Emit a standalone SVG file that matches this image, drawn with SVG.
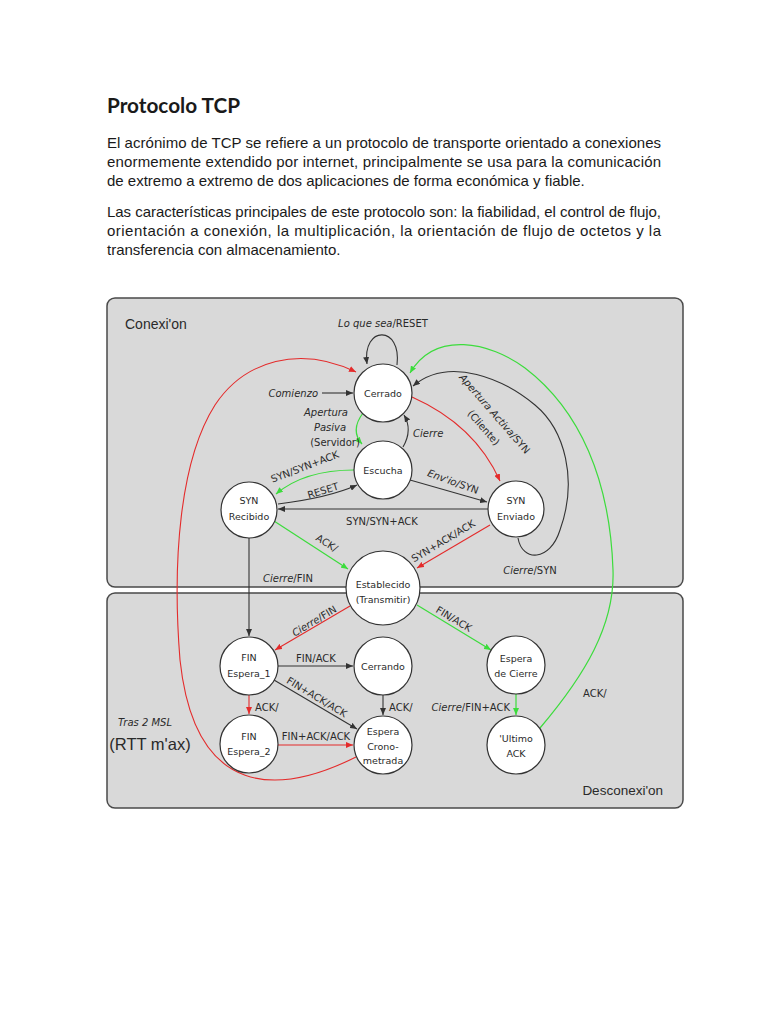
<svg xmlns="http://www.w3.org/2000/svg" width="768" height="1024" viewBox="0 0 768 1024">
<defs>
<style>
.para{font-family:"Liberation Sans",Arial,sans-serif;font-size:15px;fill:#1a1a1a}
.title{font-family:Lato,"Liberation Sans",sans-serif;font-size:21px;font-weight:bold;fill:#1a1a1a}
.panel{fill:#d9d9d9;stroke:#4a4a4a;stroke-width:1.5}
.node circle{fill:#fff;stroke:#333;stroke-width:1.2}
.t{font-family:"DejaVu Sans","Liberation Sans",sans-serif;font-size:9.5px;fill:#2a2a2a;text-anchor:middle}
.lb{font-family:"DejaVu Sans","Liberation Sans",sans-serif;font-size:10px;fill:#2a2a2a}
.it{font-style:italic}
.big{font-family:"Liberation Sans",Arial,sans-serif;font-size:14px;fill:#2a2a2a}
.k{fill:none;stroke:#333;stroke-width:1.1;marker-end:url(#ak)}
.r{fill:none;stroke:#e42b2b;stroke-width:1.1;marker-end:url(#ar)}
.g{fill:none;stroke:#3cdc3c;stroke-width:1.2;marker-end:url(#ag)}
</style>
<marker id="ak" markerUnits="userSpaceOnUse" markerWidth="8" markerHeight="6" refX="7" refY="3" orient="auto"><path d="M0,0L7,3L0,6z" fill="#333"/></marker>
<marker id="ar" markerUnits="userSpaceOnUse" markerWidth="8" markerHeight="6" refX="7" refY="3" orient="auto"><path d="M0,0L7,3L0,6z" fill="#e42b2b"/></marker>
<marker id="ag" markerUnits="userSpaceOnUse" markerWidth="8" markerHeight="6" refX="7" refY="3" orient="auto"><path d="M0,0L7,3L0,6z" fill="#3cdc3c"/></marker>
</defs>
<rect width="768" height="1024" fill="#fff"/>
<text class="title" x="107" y="113" textLength="133" lengthAdjust="spacingAndGlyphs">Protocolo TCP</text>
<text class="para" x="107" y="148" textLength="554" lengthAdjust="spacing">El acrónimo de TCP se refiere a un protocolo de transporte orientado a conexiones</text>
<text class="para" x="107" y="167" textLength="554" lengthAdjust="spacing">enormemente extendido por internet, principalmente se usa para la comunicación</text>
<text class="para" x="107" y="186">de extremo a extremo de dos aplicaciones de forma económica y fiable.</text>
<text class="para" x="107" y="217" textLength="554" lengthAdjust="spacing">Las características principales de este protocolo son: la fiabilidad, el control de flujo,</text>
<text class="para" x="107" y="236" textLength="554" lengthAdjust="spacing">orientación a conexión, la multiplicación, la orientación de flujo de octetos y la</text>
<text class="para" x="107" y="255">transferencia con almacenamiento.</text>

<rect class="panel" x="107" y="298" width="576" height="289" rx="8"/>
<rect class="panel" x="107" y="593" width="576" height="215" rx="8"/>
<text class="big" x="125" y="329">Conexi'on</text>
<text class="big" x="663" y="795" text-anchor="end" style="font-size:13.5px">Desconexi'on</text>
<text class="lb it" x="145" y="726" text-anchor="middle">Tras 2 MSL</text>
<text class="big" x="150" y="750" text-anchor="middle" style="font-size:16.5px">(RTT m'ax)</text>

<g id="edges">
<path class="k" d="M397,365 C402,325 362,325 367,364"/>
<path class="k" d="M322,393 L353,393"/>
<path class="r" d="M356,757 C280,795 195,800 180,660 C172,560 180,460 215,405 C245,360 300,345 356,372"/>
<path class="g" d="M540,728 C585,675 615,625 613,570 C610,480 580,410 525,368 C490,342 435,330 410,373"/>
<path class="k" d="M518,538 C522,562 550,562 560,530 C578,480 565,430 535,405 C505,380 450,355 413,386"/>
<path class="r" d="M412,397 Q475,425 500,481"/>
<path class="g" d="M363,413 C354,425 354,435 362,444"/>
<path class="k" d="M403,447 C410,435 410,425 404,415"/>
<path class="g" d="M354,470 C320,470 295,478 276,494"/>
<path class="k" d="M278,504 C310,500 335,495 357,485"/>
<path class="k" d="M488,509 L278,509"/>
<path class="k" d="M410,480 L487,502"/>
<path class="g" d="M274,521 L348,569"/>
<path class="r" d="M490,525 L417,568"/>
<path class="k" d="M249,538 L249,636"/>
<path class="r" d="M350,606 L275,650"/>
<path class="g" d="M417,605 L491,650"/>
<path class="k" d="M278,666 L353,666"/>
<path class="k" d="M274,680 L357,729"/>
<path class="r" d="M249,695 L249,714"/>
<path class="k" d="M383,695 L383,715"/>
<path class="r" d="M278,745 L353,745"/>
<path class="g" d="M516,694 L516,715"/>
</g>

<g id="edge-labels">
<text class="lb" x="383" y="327" text-anchor="middle"><tspan class="it">Lo que sea</tspan>/RESET</text>
<text class="lb it" x="318" y="397" text-anchor="end">Comienzo</text>
<text class="lb it" x="326" y="416" text-anchor="middle">Apertura</text>
<text class="lb it" x="330" y="431" text-anchor="middle">Pasiva</text>
<text class="lb" x="335" y="446" text-anchor="middle">(Servidor)</text>
<text class="lb it" x="413" y="437">Cierre</text>
<text class="lb" transform="translate(492,416) rotate(49)" text-anchor="middle"><tspan class="it">Apertura Activa</tspan>/SYN</text>
<text class="lb" transform="translate(481,430) rotate(49)" text-anchor="middle">(Cliente)</text>
<text class="lb" transform="translate(306,470) rotate(-21)" text-anchor="middle">SYN/SYN+ACK</text>
<text class="lb" transform="translate(324,494) rotate(-17)" text-anchor="middle">RESET</text>
<text class="lb" x="382" y="525" text-anchor="middle">SYN/SYN+ACK</text>
<text class="lb" transform="translate(452,485) rotate(20)" text-anchor="middle"><tspan class="it">Env'io</tspan>/SYN</text>
<text class="lb" transform="translate(325,546) rotate(32)" text-anchor="middle">ACK/</text>
<text class="lb" transform="translate(445,544) rotate(-31)" text-anchor="middle">SYN+ACK/ACK</text>
<text class="lb" x="530" y="574" text-anchor="middle"><tspan class="it">Cierre</tspan>/SYN</text>
<text class="lb" x="288" y="582" text-anchor="middle"><tspan class="it">Cierre</tspan>/FIN</text>
<text class="lb" transform="translate(316,624) rotate(-31)" text-anchor="middle"><tspan class="it">Cierre</tspan>/FIN</text>
<text class="lb" transform="translate(452,622) rotate(31)" text-anchor="middle">FIN/ACK</text>
<text class="lb" x="316" y="662" text-anchor="middle">FIN/ACK</text>
<text class="lb" transform="translate(315,700) rotate(31)" text-anchor="middle">FIN+ACK/ACK</text>
<text class="lb" x="255" y="711">ACK/</text>
<text class="lb" x="389" y="711">ACK/</text>
<text class="lb" x="316" y="740" text-anchor="middle">FIN+ACK/ACK</text>
<text class="lb" x="510" y="711" text-anchor="end"><tspan class="it">Cierre</tspan>/FIN+ACK</text>
<text class="lb" x="583" y="697">ACK/</text>
</g>

<g id="cerrado" class="node"><circle cx="383" cy="393" r="29"/><text class="t" x="383" y="397">Cerrado</text></g>
<g id="escucha" class="node"><circle cx="383" cy="470" r="29"/><text class="t" x="383" y="474">Escucha</text></g>
<g id="syn-recibido" class="node"><circle cx="249" cy="510" r="28"/><text class="t" x="249" y="504">SYN</text><text class="t" x="249" y="520">Recibido</text></g>
<g id="syn-enviado" class="node"><circle cx="516" cy="509" r="28"/><text class="t" x="516" y="504">SYN</text><text class="t" x="516" y="520">Enviado</text></g>
<g id="establecido" class="node"><circle cx="383" cy="588" r="37"/><text class="t" x="383" y="588">Establecido</text><text class="t" x="383" y="603">(Transmitir)</text></g>
<g id="fin-espera-1" class="node"><circle cx="249" cy="666" r="29"/><text class="t" x="249" y="661">FIN</text><text class="t" x="249" y="677">Espera_1</text></g>
<g id="cerrando" class="node"><circle cx="383" cy="666" r="29"/><text class="t" x="383" y="670">Cerrando</text></g>
<g id="espera-cierre" class="node"><circle cx="516" cy="665" r="29"/><text class="t" x="516" y="662">Espera</text><text class="t" x="516" y="677">de Cierre</text></g>
<g id="fin-espera-2" class="node"><circle cx="249" cy="744" r="29"/><text class="t" x="249" y="740">FIN</text><text class="t" x="249" y="755">Espera_2</text></g>
<g id="espera-cronometrada" class="node"><circle cx="383" cy="745" r="29"/><text class="t" x="383" y="735">Espera</text><text class="t" x="383" y="750">Crono-</text><text class="t" x="383" y="764">metrada</text></g>
<g id="ultimo-ack" class="node"><circle cx="516" cy="745" r="29"/><text class="t" x="516" y="742">'Ultimo</text><text class="t" x="516" y="757">ACK</text></g>
</svg>
